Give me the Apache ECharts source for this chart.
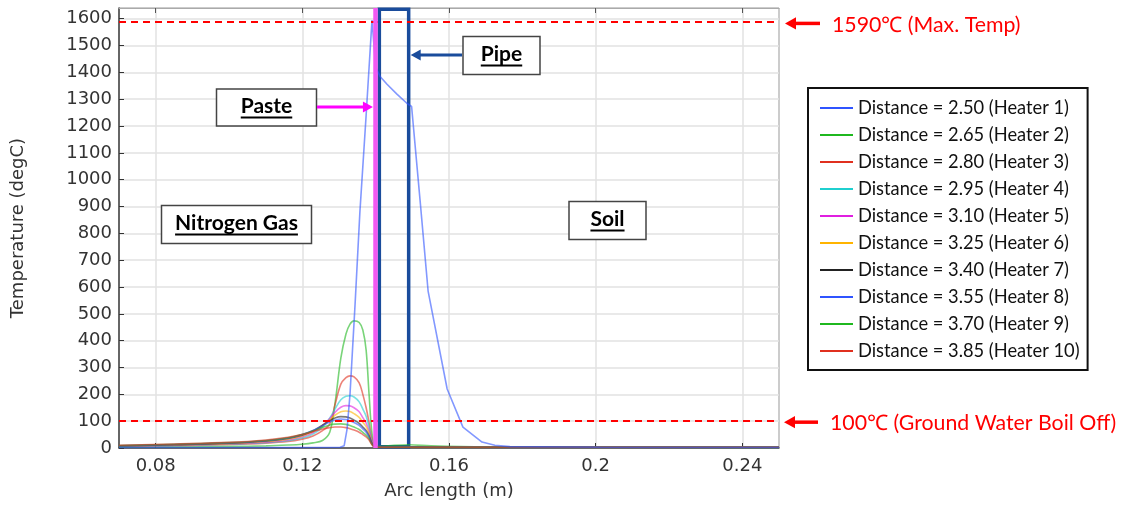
<!DOCTYPE html>
<html><head><meta charset="utf-8">
<script src="https://cdn.jsdelivr.net/npm/echarts@6/dist/echarts.min.js"></script>
<style>html,body{margin:0;padding:0;background:#fff}#c{width:1128px;height:505px}</style>
</head><body><div id="c"></div>
<script>
// ---------- data ----------
const legendNames = [
  'Distance = 2.50 (Heater 1)','Distance = 2.65 (Heater 2)','Distance = 2.80 (Heater 3)',
  'Distance = 2.95 (Heater 4)','Distance = 3.10 (Heater 5)','Distance = 3.25 (Heater 6)',
  'Distance = 3.40 (Heater 7)','Distance = 3.55 (Heater 8)','Distance = 3.70 (Heater 9)',
  'Distance = 3.85 (Heater 10)'];
const lineColors = ['#2f54ff','#1fb81f','#e0301f','#1fcfcf','#e01fe0','#ffb400','#222222','#2f54ff','#1fb81f','#e0301f'];

const heater1X = [0.0700,0.1194,0.1303,0.1314,0.1322,0.1330,0.1344,0.1357,0.1374,0.1390,0.1400,0.1412,0.1431,0.1458,0.1485,0.1498,0.1521,0.1543,0.1595,0.1638,0.1690,0.1725,0.1766,0.2012,0.2500];
const heater1Y = [2,2,3,8,70,200,540,880,1240,1595,1420,1385,1356,1319,1285,1273,925,585,220,78,22,10,5,3,2];

const gasX = [0.0700,0.0850,0.1000,0.1101,0.1161,0.1199,0.1229,0.1255,0.1275,0.1289,0.1305,0.1319,0.1330,0.1341,0.1355,0.1365,0.1374,0.1382,0.1390,0.1398,0.1411,0.1450,0.1491,0.1551,0.1701,0.2001,0.2500];
const heater2Y  = [3,4,6,8,11,14,19,28,60,165,335,425,462,474,468,440,365,200,55,10,6,10,12,8,4,3,2];
const heater3Y  = [6,9,13,18,24,33,45,65,90,160,238,262,269,265,243,200,150,95,32,6,4,4,4,4,3,3,3];
const heater4Y  = [6,9,14,20,27,37,52,78,112,145,180,193,195,190,172,145,118,78,28,5,4,4,4,3,3,3,3];
const heater5Y  = [7,10,15,22,30,42,58,84,110,133,152,158,157,150,135,113,93,63,23,5,4,4,4,3,3,3,3];
const heater6Y  = [7,11,16,24,33,45,61,84,105,122,135,138,136,128,114,96,80,55,20,5,4,4,4,3,3,3,3];
const heater7Y  = [8,12,18,26,36,48,64,85,102,112,117,116,112,104,92,78,65,45,17,4,4,4,4,3,3,3,3];
const heater8Y  = [8,13,19,27,37,50,65,83,97,104,108,106,102,95,84,71,59,41,15,4,4,4,4,3,3,3,3];
const heater9Y  = [9,14,20,28,38,50,63,77,86,89,90,88,84,78,69,58,48,34,13,3,3,3,3,3,3,3,3];
const heater10Y = [10,15,21,30,40,50,61,71,76,78,78,76,72,67,59,50,41,30,12,3,3,3,3,3,3,3,3];

const xTickValues = [0.08,0.12,0.16,0.2,0.24];
const yTickValues = [0,100,200,300,400,500,600,700,800,900,1000,1100,1200,1300,1400,1500,1600];
const maxTemp = 1590, boilTemp = 100;
const pasteX = 0.1398;
const pipeRange = [0.1410, 0.1490];

// ---------- chart ----------
const chart = echarts.init(document.getElementById('c'), null, {renderer:'canvas'});
const zipXY = (xs, ys) => xs.map((x,i) => [x, ys[i]]);
const gasSeries = [heater2Y,heater3Y,heater4Y,heater5Y,heater6Y,heater7Y,heater8Y,heater9Y,heater10Y];
const tickFont = {fontFamily:'DejaVu Sans', fontSize:18, color:'#333'};

const series = [];
series.push({name: legendNames[0], type:'line', data: zipXY(heater1X, heater1Y), symbol:'none',
  lineStyle:{color: lineColors[0], width:1.6, opacity:0.6}, itemStyle:{color: lineColors[0]}, z:3});
gasSeries.forEach((ys, i) => {
  series.push({name: legendNames[i+1], type:'line', data: zipXY(gasX, ys), symbol:'none', smooth:0.35,
    lineStyle:{color: lineColors[i+1], width:1.6, opacity:0.6}, itemStyle:{color: lineColors[i+1]}, z:2});
});
series.push({name:'annot', type:'line', data:[], z:5, silent:true,
  markLine:{silent:true, symbol:['none','none'], label:{show:false}, animation:false,
    data:[
      {yAxis:maxTemp, lineStyle:{color:'#ff0000', type:[7,5], width:1.8}},
      {yAxis:boilTemp, lineStyle:{color:'#ff0000', type:[7,5], width:1.8}},
      {xAxis:pasteX, lineStyle:{color:'#f258f2', type:'solid', width:4.5}}
    ]},
  markArea:{silent:true, label:{show:false},
    itemStyle:{color:'rgba(0,0,0,0)', borderColor:'#1a4c9c', borderWidth:3.5},
    data:[[{coord:[pipeRange[0], 5]}, {coord:[pipeRange[1], 1635]}]]}
});

const option = {
  animation:false,
  backgroundColor:'#fff',
  grid:{left:119, right:349, top:8, bottom:54, show:true, borderColor:'#999', borderWidth:1},
  legend:{
    data: legendNames, orient:'vertical', left:808, top:88,
    padding:[11,8,10,12], itemGap:9, itemWidth:33, itemHeight:14,
    borderColor:'#111', borderWidth:2, backgroundColor:'#fff',
    icon:'path://M0,6 L33,6 L33,8 L0,8 Z',
    textStyle:{fontFamily:'Lato', fontSize:18.3, color:'#111'},
    lineStyle:{opacity:1}, selectedMode:false
  },
  xAxis:[{
    type:'value', min:0.07, max:0.25, interval:0.01,
    name:'Arc length (m)', nameLocation:'middle', nameGap:34,
    nameTextStyle:{fontFamily:'DejaVu Sans', fontSize:18, color:'#333'},
    axisLine:{show:true, onZero:false, lineStyle:{color:'#444', width:1.5}},
    axisTick:{show:true, inside:true, length:5, customValues:xTickValues, lineStyle:{color:'#333'}},
    axisLabel:Object.assign({customValues:xTickValues, margin:9,
      formatter: v => String(parseFloat(Number(v).toFixed(2)))}, tickFont),
    splitLine:{show:true, lineStyle:{color:'#e2e2e2', width:1.5}}
  },{
    type:'value', min:0.07, max:0.25, interval:0.01, position:'top',
    axisLine:{show:true, onZero:false, lineStyle:{color:'#aaa'}},
    axisTick:{show:true, inside:true, length:5, customValues:xTickValues, lineStyle:{color:'#555'}},
    axisLabel:{show:false}, splitLine:{show:false}
  }],
  yAxis:[{
    type:'value', min:0, max:1640, interval:50,
    name:'Temperature (degC)', nameLocation:'middle', nameGap:92,
    nameTextStyle:{fontFamily:'DejaVu Sans', fontSize:18, color:'#333'},
    axisLine:{show:true, onZero:false, lineStyle:{color:'#444', width:1.5}},
    axisTick:{show:true, inside:true, length:5, customValues:yTickValues, lineStyle:{color:'#333'}},
    axisLabel:Object.assign({customValues:yTickValues, margin:7, formatter: v => String(Math.round(v))}, tickFont),
    splitLine:{show:true, lineStyle:{color:'#e2e2e2', width:1.5}}
  }],
  series: series
};
chart.setOption(option);

// ---------- annotations (placed through the chart's own scales) ----------
const P = (x, y) => chart.convertToPixel({xAxisIndex:0, yAxisIndex:0}, [x, y]);
const yMaxPx = P(0.07, maxTemp)[1];
const yBoilPx = P(0.07, boilTemp)[1];
const rightPx = P(0.25, 0)[0];
const pastePx = P(pasteX, 0)[0];
const pipeRightPx = P(pipeRange[1], 0)[0];

const cv = document.createElement('canvas').getContext('2d');
function boxLabel(cx, cy, w, h, text){
  cv.font = 'bold 21px Lato';
  const tw = cv.measureText(text).width;
  return [
    {type:'rect', shape:{x:cx-w/2, y:cy-h/2, width:w, height:h}, style:{fill:'#fff', stroke:'#444', lineWidth:1.5}, z:100},
    {type:'text', x:cx, y:cy-1, style:{text:text, fontFamily:'Lato', fontWeight:'bold', fontSize:21, fill:'#000', align:'center', verticalAlign:'middle'}, z:101},
    {type:'line', shape:{x1:cx-tw/2, y1:cy+10, x2:cx+tw/2, y2:cy+10}, style:{stroke:'#000', lineWidth:1.8}, z:101}
  ];
}
function arrowLeft(xTip, xTail, y, color, lw, head){
  return [
    {type:'line', shape:{x1:xTail, y1:y, x2:xTip+head*0.8, y2:y}, style:{stroke:color, lineWidth:lw}, z:102},
    {type:'polygon', shape:{points:[[xTip,y],[xTip+head,y-head*0.55],[xTip+head,y+head*0.55]]}, style:{fill:color}, z:102}
  ];
}
function arrowRight(xTail, xTip, y, color, lw, head){
  return [
    {type:'line', shape:{x1:xTail, y1:y, x2:xTip-head*0.8, y2:y}, style:{stroke:color, lineWidth:lw}, z:102},
    {type:'polygon', shape:{points:[[xTip,y],[xTip-head,y-head*0.55],[xTip-head,y+head*0.55]]}, style:{fill:color}, z:102}
  ];
}
const g = [];
g.push(...boxLabel(236.5, 224.5, 150, 38, 'Nitrogen Gas'));
g.push(...boxLabel(266.5, 107.5, 100, 37, 'Paste'));
g.push(...boxLabel(501.5, 55.5, 77, 38, 'Pipe'));
g.push(...boxLabel(607.5, 220.5, 77, 38, 'Soil'));
g.push(...arrowRight(317, pastePx - 2, 107, '#ff00ff', 3, 10));
g.push(...arrowLeft(pipeRightPx + 2, 462, 55, '#1a4c9c', 3, 10));
g.push(...arrowLeft(rightPx + 6, rightPx + 41, yMaxPx + 2, '#ff0000', 3.5, 11));
g.push(...arrowLeft(rightPx + 5, rightPx + 39, yBoilPx + 1, '#ff0000', 3.5, 11));
g.push({type:'text', x:rightPx + 53, y:yMaxPx + 4, style:{text:'1590℃ (Max. Temp)', fontFamily:'Lato', fontSize:21.3, fill:'#ff0000', verticalAlign:'middle'}, z:102});
g.push({type:'text', x:rightPx + 51, y:yBoilPx + 2, style:{text:'100℃ (Ground Water Boil Off)', fontFamily:'Lato', fontSize:21.3, fill:'#ff0000', verticalAlign:'middle'}, z:102});
chart.setOption({graphic: g});
</script></body></html>
